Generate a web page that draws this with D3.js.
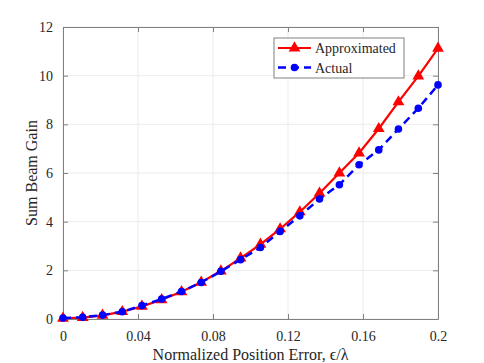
<!DOCTYPE html>
<meta charset="utf-8">
<style>
body { margin: 0; background: #fff; }
text { font-family: "Liberation Serif", "Times New Roman", serif; }
</style>
<body>
<script src="https://d3js.org/d3.v7.min.js"></script>
<script>

var width = 484,
    height = 363;

var margin = {top: 27, right: 46, bottom: 44, left: 63};

// 20 points, 0 .. 0.2
var xValues = [0, 0.0105, 0.0211, 0.0316, 0.0421, 0.0526, 0.0632, 0.0737, 0.0842, 0.0947,
               0.1053, 0.1158, 0.1263, 0.1368, 0.1474, 0.1579, 0.1684, 0.1789, 0.1895, 0.2];
var approximated = [0.03, 0.06, 0.15, 0.30, 0.52, 0.79, 1.12, 1.51, 1.97, 2.50,
                    3.07, 3.70, 4.40, 5.17, 6.00, 6.82, 7.82, 8.92, 9.98, 11.12];
var actual = [0.04, 0.07, 0.16, 0.30, 0.55, 0.82, 1.13, 1.50, 1.96, 2.44,
              2.94, 3.60, 4.24, 4.93, 5.52, 6.34, 6.95, 7.81, 8.66, 9.62];

var xTicks = [0, 0.04, 0.08, 0.12, 0.16, 0.2];
var yTicks = [0, 2, 4, 6, 8, 10, 12];

var svg = d3.select("body").append("svg")
    .attr("width", width)
    .attr("height", height);

var w = width - margin.left - margin.right,
    h = height - margin.top - margin.bottom;

var g = svg.append("g")
    .attr("transform", "translate(" + margin.left + "," + margin.top + ")");

var x = d3.scaleLinear().domain([0, 0.2]).range([0, w]);
var y = d3.scaleLinear().domain([0, 12]).range([h, 0]);

// grid
g.selectAll(".gx").data(xTicks).enter().append("line")
    .attr("x1", d => x(d)).attr("x2", d => x(d))
    .attr("y1", 0).attr("y2", h)
    .attr("stroke", "#ebebeb").attr("stroke-width", 1);
g.selectAll(".gy").data(yTicks).enter().append("line")
    .attr("x1", 0).attr("x2", w)
    .attr("y1", d => y(d)).attr("y2", d => y(d))
    .attr("stroke", "#ebebeb").attr("stroke-width", 1);

// axes, ticks pointing in, box on
function styleAxis(sel) {
  sel.attr("font-family", null);
  sel.select(".domain").attr("stroke", "#808080");
  sel.selectAll(".tick line").attr("stroke", "#808080");
  sel.selectAll("text")
    .attr("fill", "#262626")
    .style("font-family", "'Liberation Serif', serif")
    .style("font-size", "14px");
}

var fmt = d => d === 0 ? "0" : String(d);

g.append("g")
    .attr("transform", "translate(0," + h + ")")
    .call(d3.axisBottom(x).tickValues(xTicks).tickFormat(fmt).tickSizeInner(-5).tickSizeOuter(0).tickPadding(12))
    .call(styleAxis);
g.append("g")
    .call(d3.axisTop(x).tickValues(xTicks).tickFormat("").tickSizeInner(-5).tickSizeOuter(0))
    .call(styleAxis);
g.append("g")
    .call(d3.axisLeft(y).tickValues(yTicks).tickFormat(fmt).tickSizeInner(-5).tickSizeOuter(0).tickPadding(10))
    .call(styleAxis);
g.append("g")
    .attr("transform", "translate(" + w + ",0)")
    .call(d3.axisRight(y).tickValues(yTicks).tickFormat("").tickSizeInner(-5).tickSizeOuter(0))
    .call(styleAxis);

// series
var line = d3.line()
    .x((d, i) => x(xValues[i]))
    .y(d => y(d));

var tri = d3.symbol().type(d3.symbolTriangle).size(60);

g.append("path")
    .datum(approximated)
    .attr("fill", "none")
    .attr("stroke", "#ff0000")
    .attr("stroke-width", 2.2)
    .attr("d", line);
g.selectAll(".tri").data(approximated).enter().append("path")
    .attr("transform", (d, i) => "translate(" + x(xValues[i]) + "," + y(d) + ")")
    .attr("d", tri)
    .attr("fill", "#ff0000");

g.append("path")
    .datum(actual)
    .attr("fill", "none")
    .attr("stroke", "#0000ff")
    .attr("stroke-width", 2.5)
    .attr("stroke-dasharray", "8,5")
    .attr("d", line);
g.selectAll(".dot").data(actual).enter().append("circle")
    .attr("cx", (d, i) => x(xValues[i]))
    .attr("cy", d => y(d))
    .attr("r", 3.8)
    .attr("fill", "#0000ff");

// legend
var lg = svg.append("g").attr("transform", "translate(274,38)");
lg.append("rect")
    .attr("width", 130).attr("height", 40)
    .attr("fill", "#fff").attr("stroke", "#808080").attr("stroke-width", 1);
lg.append("line").attr("x1", 4).attr("x2", 37).attr("y1", 10).attr("y2", 10)
    .attr("stroke", "#ff0000").attr("stroke-width", 2.2);
lg.append("path").attr("transform", "translate(20.5,10)").attr("d", tri).attr("fill", "#ff0000");
lg.append("text").attr("x", 41).attr("y", 15).text("Approximated")
    .style("font-size", "14px").attr("fill", "#262626");
lg.append("line").attr("x1", 4).attr("x2", 37).attr("y1", 29.5).attr("y2", 29.5)
    .attr("stroke", "#0000ff").attr("stroke-width", 2.5).attr("stroke-dasharray", "8,5");
lg.append("circle").attr("cx", 20.5).attr("cy", 29.5).attr("r", 3.8).attr("fill", "#0000ff");
lg.append("text").attr("x", 41).attr("y", 34.5).text("Actual")
    .style("font-size", "14px").attr("fill", "#262626");

// axis titles
svg.append("text")
    .attr("x", margin.left + w / 2).attr("y", 360)
    .attr("text-anchor", "middle")
    .style("font-size", "16px").attr("fill", "#262626")
    .text("Normalized Position Error, \u03f5/\u03bb");
svg.append("text")
    .attr("transform", "translate(37," + (margin.top + h / 2) + ") rotate(-90)")
    .attr("text-anchor", "middle")
    .style("font-size", "16px").attr("fill", "#262626")
    .text("Sum Beam Gain");

</script>
